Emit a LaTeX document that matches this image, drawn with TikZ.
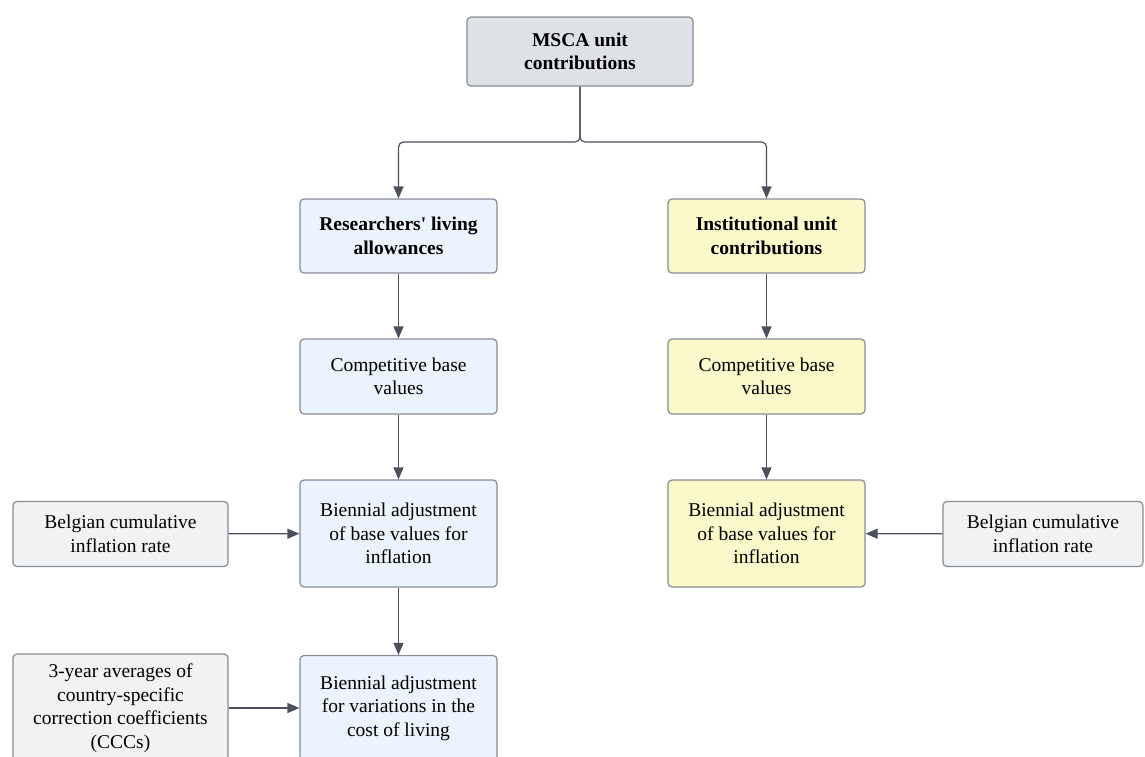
\documentclass[tikz,border=0pt]{standalone}
\usepackage{fontspec}
\setmainfont{Liberation Serif}[Ligatures=TeXOff]
\usepackage{xcolor}
\usepackage{tikz}
\usetikzlibrary{arrows.meta}
\definecolor{boxline}{HTML}{878C95}
\definecolor{arrline}{HTML}{4A515D}
\definecolor{topgray}{HTML}{DEE1E6}
\definecolor{ingray}{HTML}{F1F2F4}
\definecolor{resblue}{HTML}{EBF3FE}
\definecolor{instyellow}{HTML}{FBF9CA}

\begin{document}
\begin{tikzpicture}[
        x=1pt, y=-1pt,
        font=\fontsize{19.5}{23.5}\selectfont,
        box/.style={draw=boxline, line width=1.2pt, rounded corners=4pt,
                    align=center, inner sep=0pt, minimum width=197pt},
        topbox/.style={box, fill=topgray, font=\fontsize{19.5}{23.5}\selectfont\bfseries},
        resbox/.style={box, fill=resblue},
        instbox/.style={box, fill=instyellow},
        inbox/.style={box, fill=ingray, minimum width=215pt},
        arr/.style={-{Triangle[length=12pt,width=10pt]}, arrline, line width=1.2pt}
    ]
    \useasboundingbox (0,0) rectangle (1145,756);

    % Top
    \node[topbox, minimum width=226pt, minimum height=69pt] (msca) at (580,51.5) {MSCA unit\\contributions};
    \coordinate (fork) at (580,142);

    % Researchers' column
    \node[resbox, font=\fontsize{19.5}{23.5}\selectfont\bfseries, minimum height=74pt] (res) at (398.5,236) {Researchers' living\\allowances};
    \node[resbox, minimum height=75pt]  (rcomp) at (398.5,376.5) {Competitive base\\values};
    \node[resbox, minimum height=107pt] (radj)  at (398.5,533.5) {Biennial adjustment\\of base values for\\inflation};
    \node[resbox, minimum height=105pt] (rccc)  at (398.5,708)   {Biennial adjustment\\for variations in the\\cost of living};

    % Institutional column
    \node[instbox, font=\fontsize{19.5}{23.5}\selectfont\bfseries, minimum height=74pt] (inst) at (766.5,236) {Institutional unit\\contributions};
    \node[instbox, minimum height=75pt]  (icomp) at (766.5,376.5) {Competitive base\\values};
    \node[instbox, minimum height=107pt] (iadj)  at (766.5,533.5) {Biennial adjustment\\of base values for\\inflation};

    % Inputs
    \node[inbox, minimum height=65pt]  (rbel) at (120.5,534)  {Belgian cumulative\\inflation rate};
    \node[inbox, minimum width=200pt, minimum height=65pt] (ibel) at (1043,534) {Belgian cumulative\\inflation rate};
    \node[inbox, minimum height=108pt] (ccc)  at (120.5,708)  {3-year averages of\\country-specific\\correction coefficients\\(CCCs)};

    % Connectors
    \draw[arr, rounded corners=5pt] (msca.south) -- (fork) -| (res.north);
    \draw[arr, rounded corners=5pt] (msca.south) -- (fork) -| (inst.north);
    \draw[arr] (res) -- (rcomp);
    \draw[arr] (rcomp) -- (radj);
    \draw[arr] (radj) -- (rccc);
    \draw[arr] (inst) -- (icomp);
    \draw[arr] (icomp) -- (iadj);
    \draw[arr] (rbel) -- (radj);
    \draw[arr] (ibel) -- (iadj);
    \draw[arr] (ccc) -- (rccc);
\end{tikzpicture}
\end{document}
